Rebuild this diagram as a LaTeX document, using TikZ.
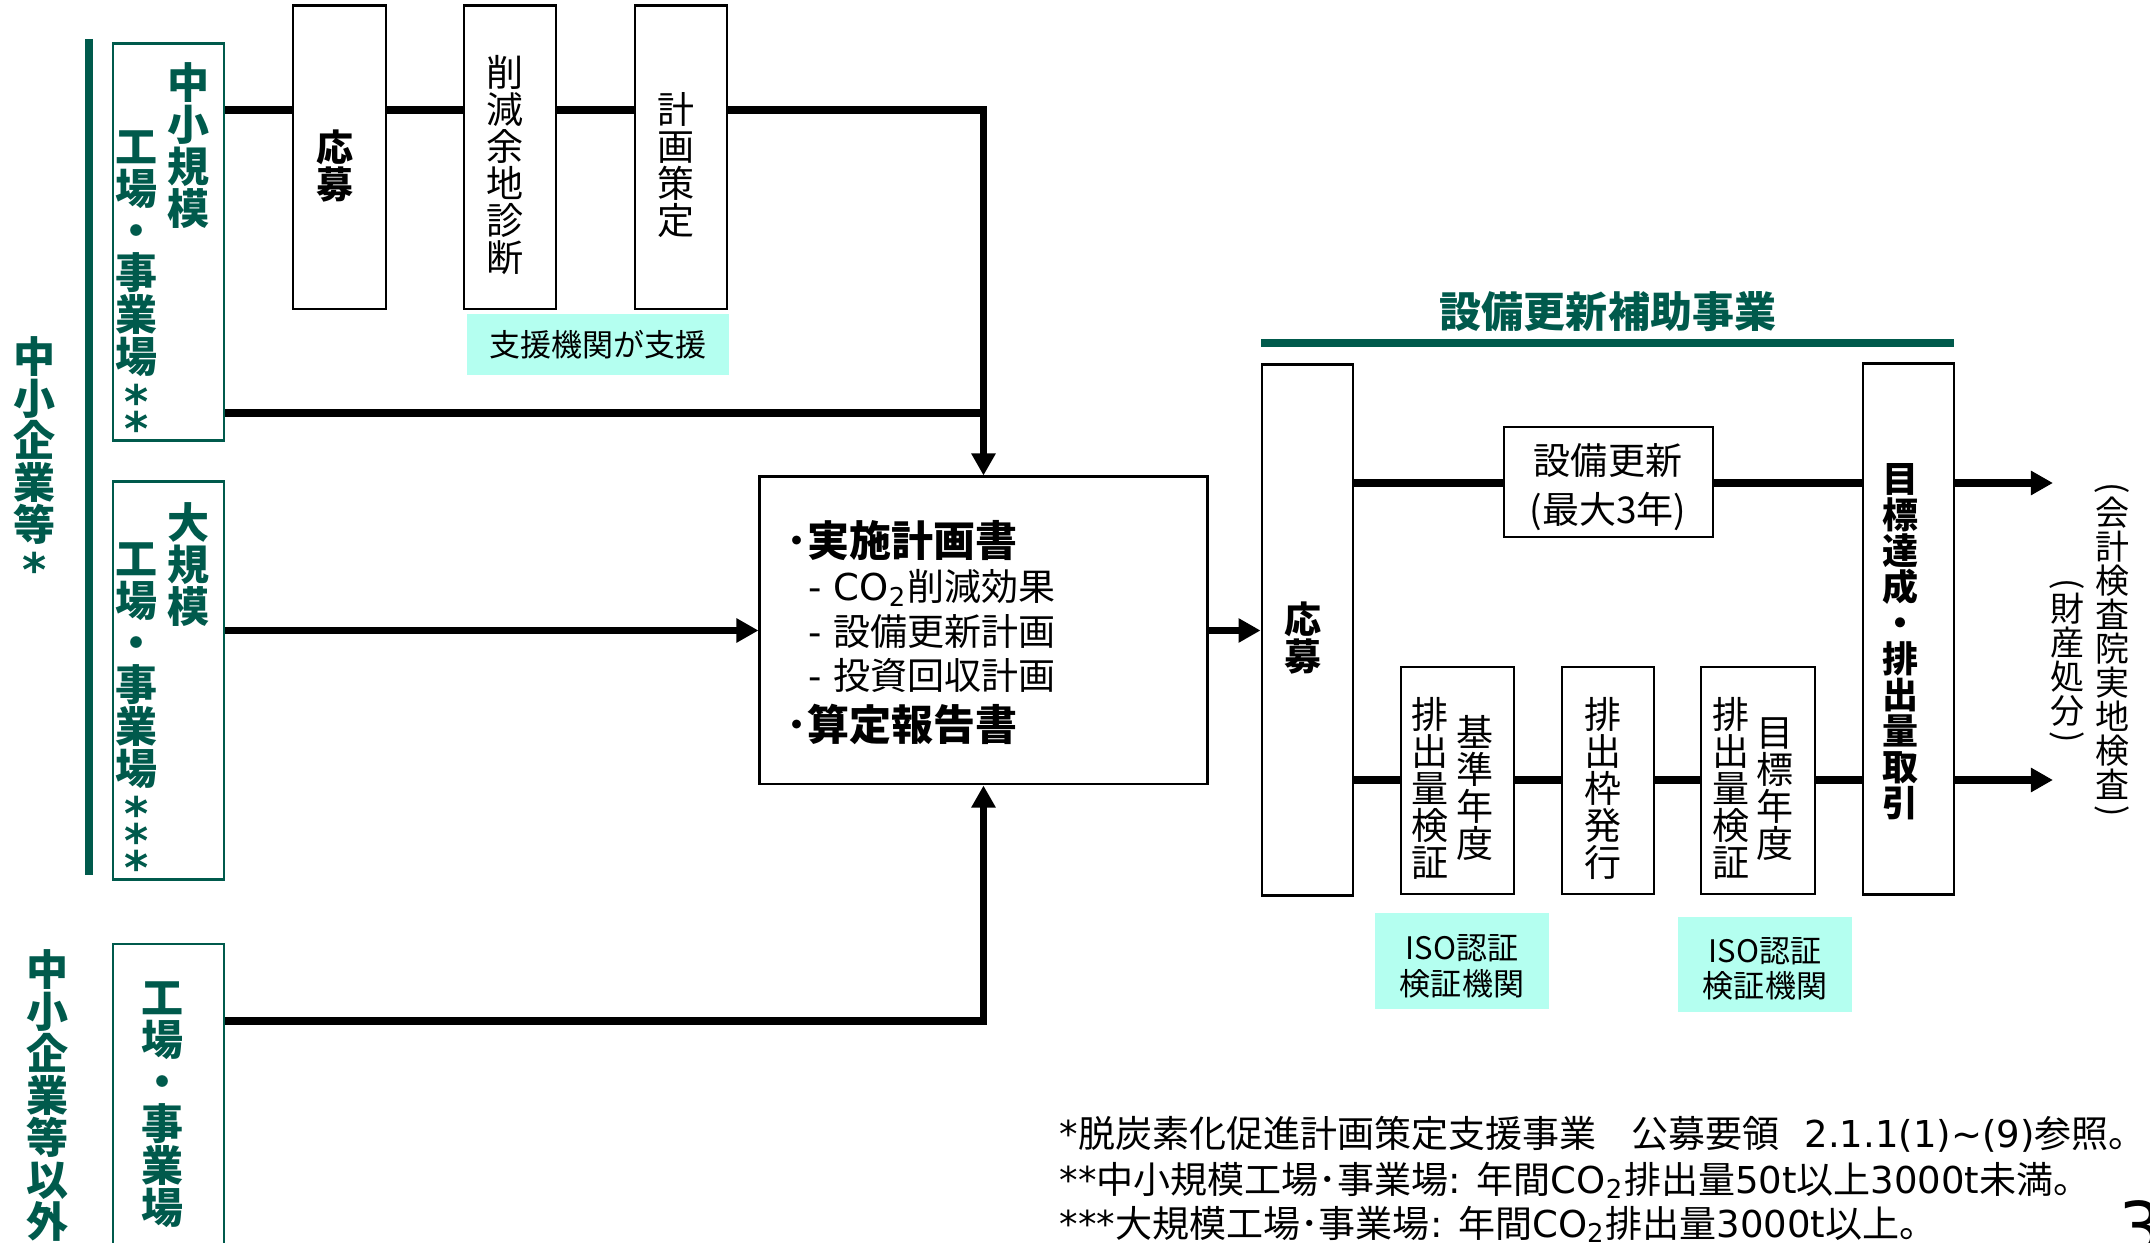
\documentclass[tikz,border=0pt]{standalone}
\usepackage{fontspec}
\usepackage{graphicx}
\setmainfont{Noto Sans CJK JP}
\newfontfamily\lat{DejaVu Sans}
\usetikzlibrary{arrows.meta}
\definecolor{grn}{RGB}{0,90,76}
\definecolor{cyn}{RGB}{180,255,240}
\newcommand\fs[1]{\fontsize{#1}{#1}\selectfont}
\makeatletter
\def\vvstrut{\rule[-.12em]{0pt}{1em}}
\newcommand\vstack[1]{\vbox{\offinterlineskip\@tfor\vv@c:=#1\do{\hbox to 1.1em{\hss\vv@c\vvstrut\hss}}}}
\makeatother
\newcommand\vast{\def\vvstrut{\rule[-.05em]{0pt}{.65em}}\raisebox{-.36em}[0pt][0pt]{\lat\bfseries\scalebox{1.1}{*}}}
\newcommand\vlp{\def\vvstrut{\rule{0pt}{.5em}}\raisebox{.4em}[0pt][0pt]{\rotatebox{-90}{(}}}
\newcommand\vrp{\def\vvstrut{\rule{0pt}{.5em}}\raisebox{.4em}[0pt][0pt]{\rotatebox{-90}{)}}}
\tikzset{
  box/.style={draw, line width=0.8pt, fill=white, inner sep=0pt},
  gbox/.style={draw=grn, line width=0.8pt, fill=white, inner sep=0pt},
  cbox/.style={fill=cyn, inner sep=0pt},
  conn/.style={line width=2pt},
  arr/.style={line width=2pt, -{Triangle[length=0.22cm,width=0.23cm]}},
  vlab/.style={inner sep=0pt, anchor=north, text=grn, font=\fs{11.95}\bfseries},
  vreg/.style={inner sep=0pt, anchor=north, font=\fs{10.53}},
  vbold/.style={inner sep=0pt, anchor=north, font=\fs{10.53}\bfseries},
  txt/.style={inner sep=0pt, anchor=base},
}
\begin{document}
\begin{tikzpicture}[x=0.01cm, y=-0.01cm]
\useasboundingbox (0,0) rectangle (2150,1243);

% left bracket line and group labels
\draw[grn, line width=2pt] (89,39) -- (89,875);
\node[vlab] (lab1) at (35,335) {\vstack{中小企業等\vast}};
\node[vlab] (lab2) at (48,948) {\vstack{中小企業等以外}};

% green boxes
\node[gbox, minimum width=1.11cm, minimum height=3.96cm] (g1) at (168.5,242) {};
\node[vlab] (g1r) at (189,61) {\vstack{中小規模}};
\node[vlab] (g1l) at (137,125) {\vstack{工場・事業場\vast\vast}};
\node[gbox, minimum width=1.11cm, minimum height=3.97cm] (g2) at (168.5,680.5) {};
\node[vlab] (g2r) at (189,501) {\vstack{大規模}};
\node[vlab] (g2l) at (137,537) {\vstack{工場・事業場\vast\vast\vast}};
\node[gbox, minimum width=1.11cm, minimum height=3.16cm] (g3) at (168.5,1102) {};
\node[vlab] (g3t) at (163,976) {\vstack{工場・事業場}};

% top process boxes
\node[box, minimum width=0.93cm, minimum height=3.03cm] (a1) at (339.5,157.5) {};
\node[vbold] (a1t) at (335,128) {\vstack{応募}};
\node[box, minimum width=0.92cm, minimum height=3.03cm] (a2) at (510,157.5) {};
\node[vreg] (a2t) at (505,53) {\vstack{削減余地診断}};
\node[box, minimum width=0.92cm, minimum height=3.03cm] (a3) at (681,157.5) {};
\node[vreg] (a3t) at (676,90) {\vstack{計画策定}};
\node[cbox, minimum width=2.62cm, minimum height=0.61cm] (sup) at (598,344.5) {};
\node[txt, font=\fs{8.82}] (supt) at (598,357) {支援機関が支援};

% central box
\node[box, minimum width=4.47cm, minimum height=3.07cm] (plan) at (983.5,630.5) {};
\node[inner sep=0pt, anchor=base west, font=\fs{11.95}\bfseries] (p1) at (786,557) {･実施計画書};
\node[inner sep=0pt, anchor=base west, font=\fs{10.53}] (p2) at (808,601) {{\lat - CO\textsubscript{2}}削減効果};
\node[inner sep=0pt, anchor=base west, font=\fs{10.53}] (p3) at (808,646) {{\lat - }設備更新計画};
\node[inner sep=0pt, anchor=base west, font=\fs{10.53}] (p4) at (808,690) {{\lat - }投資回収計画};
\node[inner sep=0pt, anchor=base west, font=\fs{11.95}\bfseries] (p5) at (786,741) {･算定報告書};

% right section
\node[txt, text=grn, font=\fs{11.95}\bfseries] (title) at (1608,328) {設備更新補助事業};
\draw[grn, line width=2pt] (1261,343) -- (1954,343);

\node[box, minimum width=0.91cm, minimum height=5.30cm] (b1) at (1307.5,630) {};
\node[vbold] (b1t) at (1303,600) {\vstack{応募}};
\node[box, minimum width=2.09cm, minimum height=1.10cm] (eq) at (1608.5,482) {};
\node[txt, font=\fs{10.53}] (eqt1) at (1608,475) {設備更新};
\node[txt, font=\fs{10.53}] (eqt2) at (1608,524) {(最大3年)};
\node[box, minimum width=0.91cm, minimum height=5.30cm] (tgt) at (1908.5,629) {};
\node[inner sep=0pt, anchor=north, font=\fs{10.24}\bfseries] (tgtt) at (1900,460) {\vstack{目標達成・排出量取引}};

\node[box, minimum width=1.13cm, minimum height=2.27cm] (s1) at (1457.5,780.5) {};
\node[vreg] (s1l) at (1430,695) {\vstack{排出量検証}};
\node[vreg] (s1r) at (1475,713) {\vstack{基準年度}};
\node[box, minimum width=0.92cm, minimum height=2.27cm] (s2) at (1608,780.5) {};
\node[vreg] (s2t) at (1603,695) {\vstack{排出枠発行}};
\node[box, minimum width=1.14cm, minimum height=2.27cm] (s3) at (1758,780.5) {};
\node[vreg] (s3l) at (1731,695) {\vstack{排出量検証}};
\node[vreg] (s3r) at (1775,713) {\vstack{目標年度}};

\node[cbox, minimum width=1.74cm, minimum height=0.96cm] (iso1) at (1462,961) {};
\node[txt, font=\fs{8.82}] (iso1a) at (1462,959) {ISO認証};
\node[txt, font=\fs{8.82}] (iso1b) at (1462,995) {検証機関};
\node[cbox, minimum width=1.74cm, minimum height=0.95cm] (iso2) at (1765,964.5) {};
\node[txt, font=\fs{8.82}] (iso2a) at (1765,962) {ISO認証};
\node[txt, font=\fs{8.82}] (iso2b) at (1765,998) {検証機関};

\node[inner sep=0pt, anchor=north, font=\fs{9.67}] (ra) at (2112,478) {\vstack{\vlp 会計検査院実地検査\vrp}};
\node[inner sep=0pt, anchor=north, font=\fs{9.67}] (rb) at (2067,574) {\vstack{\vlp 財産処分\vrp}};

% connectors
\coordinate (yA) at (0,110);
\coordinate (yB) at (0,413);
\coordinate (yC) at (0,1021);
\coordinate (yT) at (0,483);
\coordinate (yL) at (0,780);
\coordinate (endT) at (2053,483);
\coordinate (endL) at (2053,780);

\draw[conn] (g1.east |- yA) -- (a1.west |- yA);
\draw[conn] (a1.east |- yA) -- (a2.west |- yA);
\draw[conn] (a2.east |- yA) -- (a3.west |- yA);
\draw[arr] (a3.east |- yA) -| (plan.north);
\draw[conn] (g1.east |- yB) -- (plan.north |- yB);
\draw[arr] (g2.east |- plan.west) -- (plan.west);
\draw[arr] (g3.east |- yC) -| (plan.south);
\draw[arr] (plan.east) -- (b1.west |- plan.east);
\draw[conn] (b1.east |- yT) -- (eq.west |- yT);
\draw[conn] (eq.east |- yT) -- (tgt.west |- yT);
\draw[arr] (tgt.east |- yT) -- (endT);
\draw[conn] (b1.east |- yL) -- (s1.west |- yL);
\draw[conn] (s1.east |- yL) -- (s2.west |- yL);
\draw[conn] (s2.east |- yL) -- (s3.west |- yL);
\draw[conn] (s3.east |- yL) -- (tgt.west |- yL);
\draw[arr] (tgt.east |- yL) -- (endL);

% footnotes
\node[inner sep=0pt, anchor=base west, font=\fs{10.53}] (f1) at (1059,1147) {{\lat *}脱炭素化促進計画策定支援事業\hspace{10pt}公募要領\hspace{7pt}{\lat 2.1.1(1)\textasciitilde(9)}参照。};
\node[inner sep=0pt, anchor=base west, font=\fs{10.53}] (f2) at (1059,1193) {{\lat **}中小規模工場･事業場{\lat : }年間{\lat CO\textsubscript{2}}排出量{\lat 50t}以上{\lat 3000t}未満。};
\node[inner sep=0pt, anchor=base west, font=\fs{10.53}] (f3) at (1059,1237) {{\lat ***}大規模工場･事業場{\lat : }年間{\lat CO\textsubscript{2}}排出量{\lat 3000t}以上。};
\node[inner sep=0pt, anchor=north west, font=\fs{19.9}\lat] (pg) at (2118,1200) {3};
\end{tikzpicture}
\end{document}
